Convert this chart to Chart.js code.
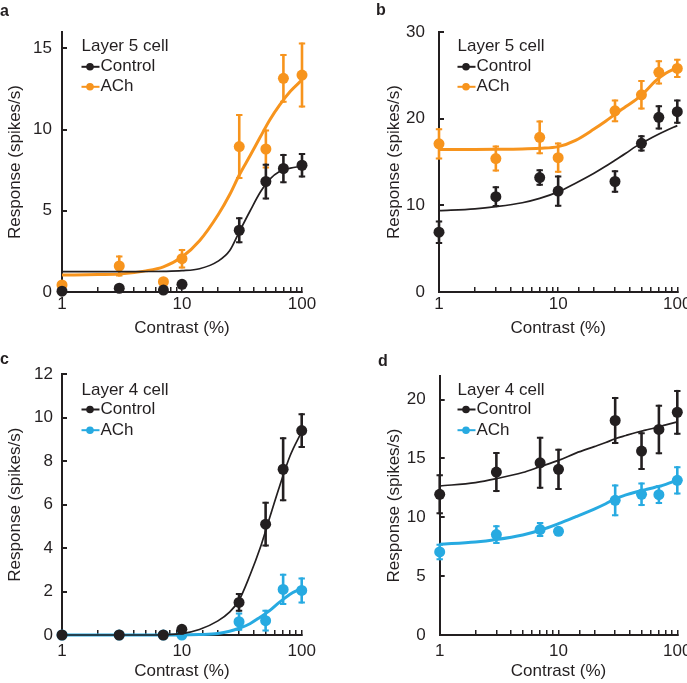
<!DOCTYPE html>
<html><head><meta charset="utf-8">
<script src="https://cdn.jsdelivr.net/npm/chart.js@4.4.1/dist/chart.umd.min.js"></script>
<style>
html,body{margin:0;padding:0;background:#fff;overflow:hidden;width:687px;height:683px;}
.wrap{position:absolute;}
.wrap canvas{display:block;}
.lbl{position:absolute;font:bold 16px "Liberation Sans",Arial,sans-serif;line-height:16px;color:#231f20;}
</style></head><body>
<div class="wrap" style="left:0;top:0;"><canvas id="ca" width="343" height="340"></canvas></div>
<div class="wrap" style="left:343px;top:0;"><canvas id="cb" width="360" height="340"></canvas></div>
<div class="wrap" style="left:0;top:340px;"><canvas id="cc" width="343" height="343"></canvas></div>
<div class="wrap" style="left:343px;top:340px;"><canvas id="cd" width="360" height="343"></canvas></div>
<div class="lbl" style="left:0;top:3px;">a</div>
<div class="lbl" style="left:376px;top:2px;">b</div>
<div class="lbl" style="left:0;top:351px;">c</div>
<div class="lbl" style="left:378px;top:353px;">d</div>
<script>
// ---- data ----
const contrast = [1, 3, 7, 10, 30, 50, 70, 100];
const fitContrast = [1, 2, 3, 5, 7, 10, 14, 20, 25, 30, 37, 45, 54, 65, 80, 100];
const xTickLabels = [1, 10, 100];

// panel a (Layer 5 cell)
const aControl    = [0.05, 0.23, 0.12, 0.47, 3.8, 6.8, 7.6, 7.8];
const aControlErr = [0, 0, 0, 0, 0.8, 1.1, 0.9, 0.75];
const aACh        = [0.43, 1.6, 0.63, 2.05, 8.95, 8.8, 13.15, 13.35];
const aAChErr     = [0, 0.65, 0, 0.6, 2.0, 1.2, 1.5, 2.0];
const aControlFit = [1.25, 1.25, 1.25, 1.26, 1.27, 1.31, 1.43, 1.9, 2.55, 3.7, 5.0, 6.15, 6.95, 7.42, 7.62, 7.75];
const aAChFit     = [1.04, 1.07, 1.1, 1.3, 1.55, 2.15, 3.15, 4.75, 6.0, 7.2, 8.4, 9.55, 10.6, 11.5, 12.35, 13.05];

// panel b (Layer 5 cell)
const bControl    = [6.9, 11.0, 13.2, 11.65, 12.75, 17.15, 20.15, 20.8];
const bControlErr = [1.35, 1.2, 0.95, 1.8, 1.3, 0.95, 1.4, 1.4];
const bACh        = [17.1, 15.4, 17.85, 15.5, 20.9, 22.75, 25.35, 25.8];
const bAChErr     = [1.8, 1.5, 1.95, 1.75, 1.3, 1.7, 1.4, 1.1];
const bControlFit = [9.38, 9.6, 9.85, 10.3, 10.8, 11.55, 12.55, 13.7, 14.5, 15.2, 16.0, 16.8, 17.4, 18.0, 18.6, 19.2];
const bAChFit     = [16.45, 16.45, 16.46, 16.5, 16.58, 16.77, 17.5, 18.8, 19.7, 20.5, 21.4, 22.2, 23.15, 24.3, 25.25, 25.9];

// panel c (Layer 4 cell)
const cControl    = [0, 0, 0, 0.26, 1.5, 5.1, 7.63, 9.41];
const cControlErr = [0, 0, 0, 0, 0.43, 1.03, 1.47, 0.8];
const cACh        = [0, 0, 0, 0, 0.61, 0.66, 2.1, 2.05];
const cAChErr     = [0, 0, 0, 0, 0.42, 0.5, 0.72, 0.6];
const cControlFit = [0, 0, 0, 0, 0.01, 0.06, 0.25, 0.65, 1.05, 1.6, 2.75, 4.0, 5.4, 6.8, 8.25, 9.36];
const cAChFit     = [0, 0, 0, 0, 0, 0, 0.02, 0.07, 0.17, 0.31, 0.52, 0.82, 1.12, 1.5, 1.88, 2.15];

// panel d (Layer 4 cell)
const dControl    = [11.95, 13.84, 14.63, 14.07, 18.22, 15.62, 17.46, 18.92];
const dControlErr = [1.7, 1.7, 2.2, 1.75, 2.0, 1.6, 2.1, 1.9];
const dACh        = [7.06, 8.53, 8.96, 8.81, 11.44, 11.95, 11.92, 13.14];
const dAChErr     = [0.7, 0.8, 0.64, 0.3, 1.35, 1.0, 0.8, 1.2];
const dControlFit = [12.65, 12.95, 13.28, 13.8, 14.3, 14.83, 15.45, 16.0, 16.35, 16.67, 16.95, 17.2, 17.4, 17.6, 17.85, 18.1];
const dAChFit     = [7.71, 7.9, 8.11, 8.5, 8.9, 9.46, 10.05, 10.7, 11.15, 11.58, 11.9, 12.15, 12.35, 12.55, 12.8, 13.14];

// ---- styles ----
const INK = '#231f20';
const ORANGE = '#f7941d';
const BLUE = '#27aae1';
const FONT = '"Liberation Sans", Arial, Helvetica, sans-serif';
const FS = 17;

const pts = (xs, ys) => xs.map((x, i) => ({x: x, y: ys[i]}));

const errorBars = {
  id: 'errorBars',
  beforeDatasetDraw(chart, args) {
    const ds = chart.data.datasets[args.index];
    if (!ds.errors) return;
    const ys = chart.scales.y, ctx = chart.ctx;
    ctx.save();
    ctx.strokeStyle = ds.backgroundColor;
    args.meta.data.forEach((el, i) => {
      const e = ds.errors[i];
      if (!e) return;
      const v = ds.data[i].y;
      const t = ys.getPixelForValue(v + e), b = ys.getPixelForValue(v - e);
      ctx.lineWidth = 2.6;
      ctx.beginPath(); ctx.moveTo(el.x, t); ctx.lineTo(el.x, b); ctx.stroke();
      ctx.lineWidth = 2;
      ctx.beginPath();
      ctx.moveTo(el.x - 3.2, t + 1); ctx.lineTo(el.x + 3.2, t + 1);
      ctx.moveTo(el.x - 3.2, b - 1); ctx.lineTo(el.x + 3.2, b - 1);
      ctx.stroke();
    });
    ctx.restore();
  }
};

const boxLegend = {
  id: 'boxLegend',
  afterDraw(chart, args, o) {
    const ctx = chart.ctx;
    ctx.save();
    ctx.font = FS + 'px ' + FONT;
    ctx.textBaseline = 'middle';
    ctx.fillStyle = INK;
    ctx.fillText(o.title, o.x, o.y0);
    o.items.forEach((it, i) => {
      const y = o.y1 + i * o.dy;
      ctx.strokeStyle = it.color; ctx.lineWidth = 2;
      ctx.beginPath(); ctx.moveTo(o.x, y); ctx.lineTo(o.x + 18, y); ctx.stroke();
      ctx.fillStyle = it.color;
      ctx.beginPath(); ctx.arc(o.x + 8.5, y, 3.8, 0, Math.PI * 2); ctx.fill();
      ctx.fillStyle = INK;
      ctx.fillText(it.label, o.x + 19, y);
    });
    ctx.restore();
  }
};

function makePanel(id, p) {
  const datasets = [
    {data: pts(fitContrast, p.ctrlFit), showLine: true, borderColor: INK, borderWidth: 1.7, pointRadius: 0, cubicInterpolationMode: 'monotone', clip: false},
    {data: pts(contrast, p.ctrl), errors: p.ctrlErr, backgroundColor: INK, borderWidth: 0, pointRadius: 5.5, clip: false},
    {data: pts(fitContrast, p.achFit), showLine: true, borderColor: p.color, borderWidth: 3, pointRadius: 0, cubicInterpolationMode: 'monotone', clip: false},
    {data: pts(contrast, p.ach), errors: p.achErr, backgroundColor: p.color, borderWidth: 0, pointRadius: 5.5, clip: false}
  ];
  new Chart(document.getElementById(id), {
    type: 'scatter',
    data: {datasets: datasets},
    plugins: [errorBars, boxLegend],
    options: {
      responsive: false,
      animation: false,
      events: [],
      layout: {padding: {left: 0, top: p.padTop, right: p.padRight, bottom: 0}},
      plugins: {
        legend: {display: false},
        tooltip: {enabled: false},
        boxLegend: {x: p.legX, y0: p.legY0, y1: p.legY1, dy: p.legDy, title: p.title,
          items: [{label: 'Control', color: INK}, {label: 'ACh', color: p.color}]}
      },
      scales: {
        x: {
          type: 'logarithmic', min: 1, max: 100,
          afterFit: s => { s.height = p.xH; },
          border: {display: true, color: INK, width: 2},
          grid: {display: true, drawOnChartArea: false, drawTicks: true, tickLength: -5, color: INK, lineWidth: 1.5},
          ticks: {autoSkip: false, maxRotation: 0, minRotation: 0, padding: p.xTickPad, color: INK,
            font: {family: FONT, size: FS},
            callback: v => xTickLabels.includes(v) ? String(v) : ''},
          title: {display: true, text: 'Contrast (%)', color: INK, font: {family: FONT, size: FS},
            padding: {top: 0, bottom: p.xTitlePad}}
        },
        y: {
          min: 0, max: p.yMax,
          afterFit: s => { s.width = p.yW; },
          border: {display: true, color: INK, width: 2},
          grid: {display: true, drawOnChartArea: false, drawTicks: true, tickLength: -5, color: INK, lineWidth: 2},
          ticks: {stepSize: p.yStep, includeBounds: false, padding: p.yTickPad, color: INK,
            font: {family: FONT, size: FS}},
          title: {display: true, text: 'Response (spikes/s)', color: INK, font: {family: FONT, size: FS},
            padding: {top: p.yTitlePad, bottom: 0}}
        }
      }
    }
  });
}

makePanel('ca', {ctrl: aControl, ctrlErr: aControlErr, ach: aACh, achErr: aAChErr, ctrlFit: aControlFit, achFit: aAChFit,
  color: ORANGE, title: 'Layer 5 cell', yMax: 16, yStep: 5,
  padTop: 32, padRight: 41, yW: 62, xH: 48, xTickPad: 7.6, xTitlePad: 1.4, yTickPad: 15, yTitlePad: 5.5,
  legX: 81.5, legY0: 46.5, legY1: 66.8, legDy: 20});
makePanel('cb', {ctrl: bControl, ctrlErr: bControlErr, ach: bACh, achErr: bAChErr, ctrlFit: bControlFit, achFit: bAChFit,
  color: ORANGE, title: 'Layer 5 cell', yMax: 30, yStep: 10,
  padTop: 32, padRight: 25.7, yW: 96, xH: 48, xTickPad: 7.6, xTitlePad: 1.4, yTickPad: 19, yTitlePad: 41.5,
  legX: 114.5, legY0: 46.5, legY1: 66.8, legDy: 20});
makePanel('cc', {ctrl: cControl, ctrlErr: cControlErr, ach: cACh, achErr: cAChErr, ctrlFit: cControlFit, achFit: cAChFit,
  color: BLUE, title: 'Layer 4 cell', yMax: 12, yStep: 2,
  padTop: 34.3, padRight: 41.3, yW: 62, xH: 48, xTickPad: 11.4, xTitlePad: 1, yTickPad: 14, yTitlePad: 5.5,
  legX: 81.5, legY0: 50, legY1: 69.5, legDy: 20.7});
makePanel('cd', {ctrl: dControl, ctrlErr: dControlErr, ach: dACh, achErr: dAChErr, ctrlFit: dControlFit, achFit: dAChFit,
  color: BLUE, title: 'Layer 4 cell', yMax: 22, yStep: 5,
  padTop: 36, padRight: 25.7, yW: 96.7, xH: 48, xTickPad: 11.4, xTitlePad: 1, yTickPad: 19, yTitlePad: 41.5,
  legX: 114.5, legY0: 50, legY1: 69.5, legDy: 20.7});
</script>
</body></html>
